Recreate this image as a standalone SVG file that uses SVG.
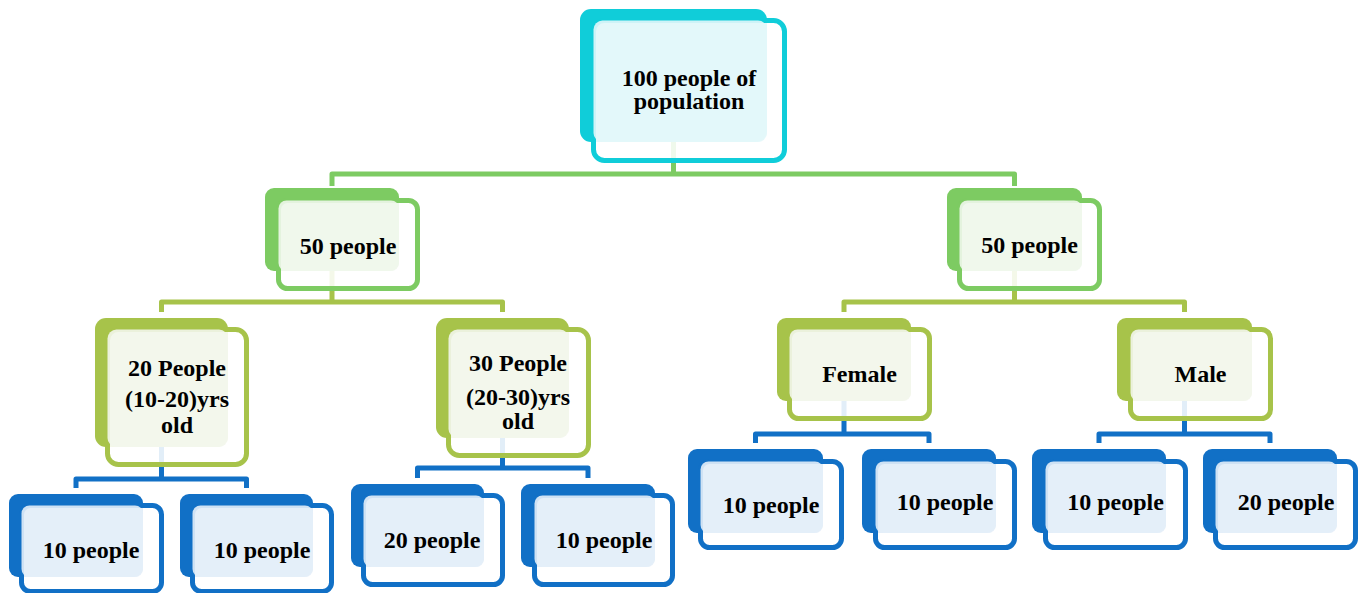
<svg xmlns="http://www.w3.org/2000/svg" width="1364" height="593" viewBox="0 0 1364 593">
  <style>
    text { font-family: "Liberation Serif", "Times New Roman", serif; font-weight: bold; font-size: 24px; fill: #000; text-anchor: middle; }
    .front { fill: #fff; fill-opacity: 0.88; stroke-width: 5; }
    .light { fill-opacity: 0.9; }
    .conn { fill: none; stroke-width: 5; stroke-linejoin: round; stroke-linecap: butt; }
    .cyan .back { fill: #10cdd9; } .cyan .front { stroke: #10cdd9; } .cyan .light { fill: #e3f7f9; }
    .green .back { fill: #7dcb62; } .green .front { stroke: #7dcb62; } .green .light { fill: #eff7ec; }
    .olive .back { fill: #a7c34a; } .olive .front { stroke: #a7c34a; } .olive .light { fill: #f3f6ec; }
    .blue .back { fill: #1170c6; } .blue .front { stroke: #1170c6; } .blue .light { fill: #e4eef8; }
  </style>

  <!-- connectors -->
  <g id="connectors">
    <path class="conn" stroke="#7dcb62" d="M673.5 142 V174 M332 186 V174 H1014.5 V186"/>
    <path class="conn" stroke="#a7c34a" d="M332 271 V302 M161.5 312 V302 H502.5 V312"/>
    <path class="conn" stroke="#a7c34a" d="M1014.5 271 V302 M844 312 V302 H1184.5 V312"/>
    <path class="conn" stroke="#1170c6" d="M161.5 447 V479 M76 488 V479 H246.5 V488"/>
    <path class="conn" stroke="#1170c6" d="M502.5 438 V468 M417.5 478 V468 H588 V478"/>
    <path class="conn" stroke="#1170c6" d="M844 401 V434 M755.5 443 V434 H929 V443"/>
    <path class="conn" stroke="#1170c6" d="M1184.5 401 V434 M1099 443 V434 H1270 V443"/>
  </g>

  <!-- root -->
  <g id="root" class="cyan">
    <rect class="back" x="580" y="9" width="187" height="133" rx="11"/>
    <rect class="front" x="593.5" y="20.5" width="191" height="140" rx="11"/>
    <rect class="light" x="593.5" y="20.5" width="173.5" height="121.5" rx="9"/>
    <text x="689" y="86">100 people of</text>
    <text x="689" y="109">population</text>
  </g>

  <!-- level 1 -->
  <g id="half-left" class="green">
    <rect class="back" x="265" y="188" width="134" height="83" rx="9"/>
    <rect class="front" x="278.5" y="200.5" width="139" height="88" rx="9"/>
    <rect class="light" x="278.5" y="200.5" width="120.5" height="70.5" rx="8"/>
    <text x="348" y="254">50 people</text>
  </g>
  <g id="half-right" class="green">
    <rect class="back" x="947" y="188" width="135" height="83" rx="9"/>
    <rect class="front" x="959.5" y="200.5" width="140" height="88" rx="9"/>
    <rect class="light" x="959.5" y="200.5" width="122.5" height="70.5" rx="8"/>
    <text x="1029.5" y="253">50 people</text>
  </g>

  <!-- level 2 -->
  <g id="age-10-20" class="olive">
    <rect class="back" x="95" y="318" width="133" height="129" rx="11"/>
    <rect class="front" x="107.5" y="329.5" width="139" height="135" rx="11"/>
    <rect class="light" x="107.5" y="329.5" width="120.5" height="117.5" rx="9"/>
    <text x="177" y="376">20 People</text>
    <text x="177" y="407">(10-20)yrs</text>
    <text x="177" y="433">old</text>
  </g>
  <g id="age-20-30" class="olive">
    <rect class="back" x="436" y="318" width="133" height="120" rx="11"/>
    <rect class="front" x="448.5" y="329.5" width="140" height="126" rx="11"/>
    <rect class="light" x="448.5" y="329.5" width="120.5" height="108.5" rx="9"/>
    <text x="518" y="371">30 People</text>
    <text x="518" y="405">(20-30)yrs</text>
    <text x="518" y="429">old</text>
  </g>
  <g id="female" class="olive">
    <rect class="back" x="777" y="318" width="134" height="83" rx="9"/>
    <rect class="front" x="789.5" y="329.5" width="140" height="89" rx="9"/>
    <rect class="light" x="789.5" y="329.5" width="121.5" height="71.5" rx="8"/>
    <text x="859.5" y="382">Female</text>
  </g>
  <g id="male" class="olive">
    <rect class="back" x="1117" y="318" width="135" height="83" rx="9"/>
    <rect class="front" x="1130.5" y="329.5" width="140" height="89" rx="9"/>
    <rect class="light" x="1130.5" y="329.5" width="121.5" height="71.5" rx="8"/>
    <text x="1200.5" y="382">Male</text>
  </g>

  <!-- level 3 -->
  <g id="leaf-1" class="blue">
    <rect class="back" x="9" y="494" width="134" height="83" rx="9"/>
    <rect class="front" x="21.5" y="505.5" width="140" height="86" rx="9"/>
    <rect class="light" x="21.5" y="505.5" width="121.5" height="71.5" rx="8"/>
    <text x="91" y="558">10 people</text>
  </g>
  <g id="leaf-2" class="blue">
    <rect class="back" x="180" y="494" width="133" height="83" rx="9"/>
    <rect class="front" x="192.5" y="505.5" width="139" height="86" rx="9"/>
    <rect class="light" x="192.5" y="505.5" width="120.5" height="71.5" rx="8"/>
    <text x="262" y="558">10 people</text>
  </g>
  <g id="leaf-3" class="blue">
    <rect class="back" x="351" y="484" width="133" height="83" rx="9"/>
    <rect class="front" x="363.5" y="495.5" width="139" height="89" rx="9"/>
    <rect class="light" x="363.5" y="495.5" width="120.5" height="71.5" rx="8"/>
    <text x="432" y="548">20 people</text>
  </g>
  <g id="leaf-4" class="blue">
    <rect class="back" x="521" y="484" width="134" height="83" rx="9"/>
    <rect class="front" x="534.5" y="495.5" width="138" height="89" rx="9"/>
    <rect class="light" x="534.5" y="495.5" width="120.5" height="71.5" rx="8"/>
    <text x="604" y="548">10 people</text>
  </g>
  <g id="leaf-5" class="blue">
    <rect class="back" x="688" y="449" width="135" height="84" rx="9"/>
    <rect class="front" x="700.5" y="461.5" width="141" height="86" rx="9"/>
    <rect class="light" x="700.5" y="461.5" width="122.5" height="71.5" rx="8"/>
    <text x="771" y="513">10 people</text>
  </g>
  <g id="leaf-6" class="blue">
    <rect class="back" x="862" y="449" width="134" height="84" rx="9"/>
    <rect class="front" x="875.5" y="461.5" width="139" height="86" rx="9"/>
    <rect class="light" x="875.5" y="461.5" width="120.5" height="71.5" rx="8"/>
    <text x="945" y="510">10 people</text>
  </g>
  <g id="leaf-7" class="blue">
    <rect class="back" x="1032" y="449" width="134" height="84" rx="9"/>
    <rect class="front" x="1045.5" y="461.5" width="140" height="86" rx="9"/>
    <rect class="light" x="1045.5" y="461.5" width="120.5" height="71.5" rx="8"/>
    <text x="1115.5" y="510">10 people</text>
  </g>
  <g id="leaf-8" class="blue">
    <rect class="back" x="1203" y="449" width="134" height="84" rx="9"/>
    <rect class="front" x="1215.5" y="461.5" width="140" height="86" rx="9"/>
    <rect class="light" x="1215.5" y="461.5" width="121.5" height="71.5" rx="8"/>
    <text x="1286" y="510">20 people</text>
  </g>
</svg>
